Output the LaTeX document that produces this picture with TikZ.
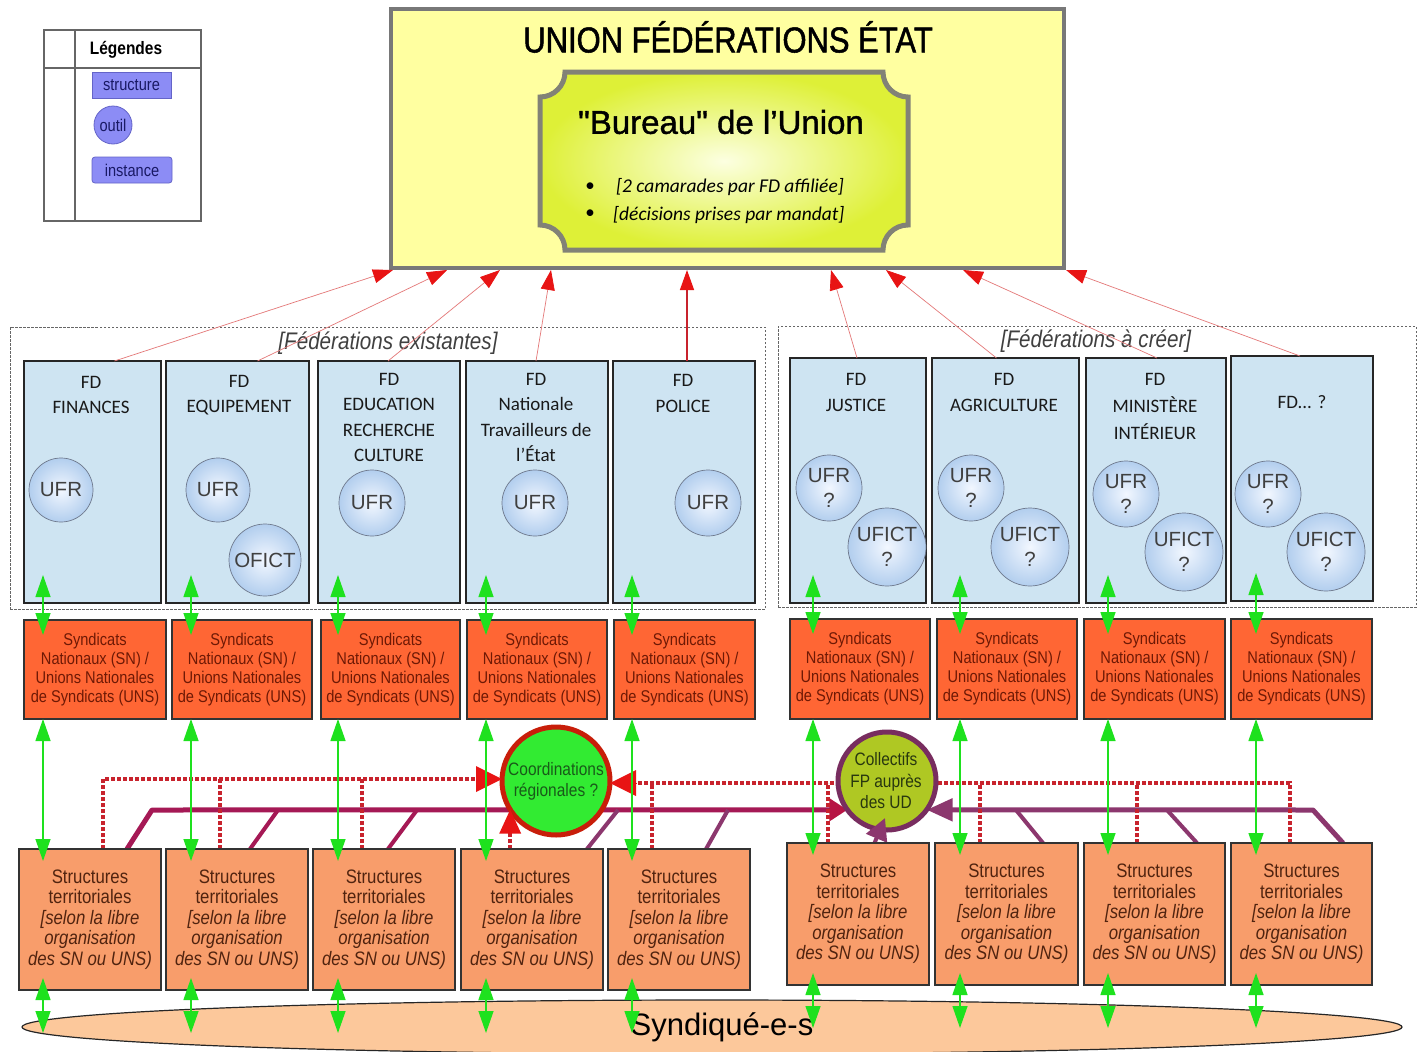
\documentclass[tikz,border=0pt]{standalone}
\usepackage{fontspec}
\usetikzlibrary{arrows.meta,calc,shapes.geometric}
\newfontfamily\ar{Liberation Sans}
\newfontfamily\arb[FakeBold=1.2]{Liberation Sans}
\newfontfamily\nar[FakeStretch=0.86]{Liberation Sans}
\newfontfamily\narb[FakeStretch=0.86,FakeBold=1.4]{Liberation Sans}
\newfontfamily\carl{Carlito}
\definecolor{topyellow}{RGB}{255,255,160}
\definecolor{topgray}{RGB}{120,120,120}
\definecolor{bgray}{RGB}{130,130,118}
\definecolor{bin}{RGB}{252,255,225}
\definecolor{bout}{RGB}{222,240,55}
\definecolor{fdblue}{RGB}{206,228,242}
\definecolor{ufrin}{RGB}{242,247,255}
\definecolor{ufrout}{RGB}{178,206,238}
\definecolor{ufrdraw}{RGB}{110,120,140}
\definecolor{snfill}{RGB}{255,102,52}
\definecolor{sntext}{RGB}{110,25,5}
\definecolor{stfill}{RGB}{248,157,107}
\definecolor{sttext}{RGB}{80,35,15}
\definecolor{ellfill}{RGB}{252,200,155}
\definecolor{ggreen}{RGB}{30,225,30}
\definecolor{rline}{RGB}{228,120,120}
\definecolor{rtip}{RGB}{232,20,20}
\definecolor{dred}{RGB}{200,35,45}
\definecolor{crim}{RGB}{165,25,85}
\definecolor{purp}{RGB}{140,55,110}
\definecolor{coordfill}{RGB}{50,235,50}
\definecolor{coordline}{RGB}{200,30,10}
\definecolor{coordtext}{RGB}{25,90,25}
\definecolor{collfill}{RGB}{175,200,35}
\definecolor{collline}{RGB}{120,45,95}
\definecolor{colltext}{RGB}{40,55,15}
\definecolor{legfill}{RGB}{140,140,245}
\definecolor{legdraw}{RGB}{100,100,200}
\definecolor{legtext}{RGB}{25,25,100}
\newcommand\RB[6]{\node[#6, minimum width={(#4)-(#2)}, minimum height={(#5)-(#3)}] (#1) at ({((#2)+(#4))/2},{((#3)+(#5))/2}) {};}
\newcommand\SNT{Syndicats\\Nationaux (SN) /\\Unions Nationales\\de Syndicats (UNS)}
\newcommand\STT{Structures\\territoriales\\\textit{[selon la libre}\\\textit{organisation}\\\textit{des SN ou UNS)}}
\begin{document}
\begin{tikzpicture}[x=1pt,y=-1pt,
  fdbox/.style={draw=black!85, line width=1.1pt, fill=fdblue, inner sep=0pt, outer sep=0pt},
  snbox/.style={draw=black!80, line width=1.1pt, fill=snfill, inner sep=0pt, outer sep=0pt},
  stbox/.style={draw=black!80, line width=1.1pt, fill=stfill, inner sep=0pt, outer sep=0pt},
  grp/.style={draw=gray!80!black, line width=0.7pt, dash pattern=on 2.5pt off 1.5pt, inner sep=0pt, outer sep=0pt},
  grplab/.style={font=\nar\itshape\fontsize{24}{26}\selectfont, text=black!75, inner sep=0pt},
  fdtxt/.style={font=\carl\fontsize{19}{25.5}\selectfont, align=center, inner sep=0pt, text=black!90},
  uc/.style={circle, draw=ufrdraw, line width=0.7pt, inner color=ufrin, outer color=ufrout, inner sep=0pt, outer sep=0pt, font=\ar\fontsize{20.5}{25}\selectfont, text=black!75, align=center},
  sntxt/.style={font=\nar\fontsize{17}{19}\selectfont, text=sntext, align=center, inner sep=0pt},
  sttxt/.style={font=\nar\fontsize{19.5}{20.5}\selectfont, text=sttext, align=center, inner sep=0pt},
  garrow/.style={draw=ggreen, line width=1.3pt, {Triangle[length=22pt,width=15pt]}-{Triangle[length=22pt,width=15pt]}},
  rthin/.style={draw=rline, line width=0.7pt, -{Triangle[length=20pt,width=14pt,color=rtip]}},
  rdot/.style={draw=dred, line width=4pt, dash pattern=on 4pt off 2pt},
  legbox/.style={draw=legdraw, line width=0.8pt, fill=legfill, text=legtext, font=\nar\fontsize{17}{18}\selectfont, inner sep=0pt},
]
\useasboundingbox[fill=white] (0,0) rectangle (1422,1052);

% ---------- legend ----------
\RB{leg}{44}{30}{201}{221}{draw=gray!80!black, line width=1.1pt, inner sep=0pt}
\draw[gray!80!black, line width=1.1pt] (leg.north west -| 75,0) -- (leg.south west -| 75,0);
\draw[gray!80!black, line width=1.1pt] (leg.west |- 0,68) -- (leg.east |- 0,68);
\node[font=\nar\bfseries\fontsize{18}{19}\selectfont, inner sep=0pt] (legt) at (126,50) {Légendes};
\node[legbox, minimum width=79, minimum height=26] (lstruct) at (131.5,85) {structure};
\node[legbox, circle, minimum size=38] (loutil) at (113,125) {outil};
\node[legbox, rounded corners=3pt, minimum width=80, minimum height=26] (linst) at (132,170) {instance};

% ---------- top box ----------
\node[draw=topgray, line width=4pt, fill=topyellow, inner sep=0pt, outer sep=0pt, minimum width=673, minimum height=259] (top) at (727.5,138.5) {};
\node[font=\narb\fontsize{36}{40}\selectfont, inner sep=0pt] (title) at (728,37) {UNION FÉDÉRATIONS ÉTAT};
\path[draw=bgray, line width=5pt, inner color=bin, outer color=bout]
  (565,72) -- (883,72) .. controls (883,85.8) and (894.2,97) .. (908,97)
  -- (908,225) .. controls (894.2,225) and (883,236.2) .. (883,250)
  -- (565,250) .. controls (565,236.2) and (553.8,225) .. (540,225)
  -- (540,97) .. controls (553.8,97) and (565,85.8) .. (565,72) -- cycle;
\node[font=\arb\fontsize{33}{38}\selectfont, inner sep=0pt] (bureau) at (721,122) {"Bureau" de l’Union};
\node[font=\carl\fontsize{19}{22}\selectfont, inner sep=0pt] (bul1) at (590,187) {•};
\node[font=\carl\fontsize{19}{22}\selectfont, inner sep=0pt] (bul2) at (590,214) {•};
\node[font=\carl\itshape\fontsize{19.5}{22}\selectfont, anchor=west, inner sep=0pt] (b1) at (616,187) {[2 camarades par FD affiliée]};
\node[font=\carl\itshape\fontsize{19.5}{22}\selectfont, anchor=west, inner sep=0pt] (b2) at (613,215) {[décisions prises par mandat]};

% ---------- group frames ----------
\RB{gl}{10}{327}{765}{609}{grp}
\RB{gr}{778}{326}{1416}{607}{grp}
\node[grplab] (gllab) at (388,343) {[Fédérations existantes]};
\node[grplab] (grlab) at (1096,341) {[Fédérations à créer]};

% ---------- FD boxes ----------
\RB{fd1}{24}{361}{161}{603}{fdbox}
\RB{fd2}{166}{361}{309}{603}{fdbox}
\RB{fd3}{318}{361}{460}{603}{fdbox}
\RB{fd4}{466}{361}{608}{603}{fdbox}
\RB{fd5}{613}{361}{755}{603}{fdbox}
\RB{fd6}{790}{358}{926}{603}{fdbox}
\RB{fd7}{932}{358}{1079}{603}{fdbox}
\RB{fd8}{1086}{358}{1226}{603}{fdbox}
\RB{fd9}{1231}{356}{1373}{601}{fdbox}
\node[fdtxt] (fd1t) at (91,395) {FD\\FINANCES};
\node[fdtxt] (fd2t) at (239,395) {FD\\EQUIPEMENT};
\node[fdtxt] (fd3t) at (389,417.5) {FD\\EDUCATION\\RECHERCHE\\CULTURE};
\node[fdtxt] (fd4t) at (536,417.5) {FD\\Nationale\\Travailleurs de\\l’État};
\node[fdtxt] (fd5t) at (683,393.5) {FD\\POLICE};
\node[fdtxt] (fd6t) at (856,392.5) {FD\\JUSTICE};
\node[fdtxt] (fd7t) at (1004,392.5) {FD\\AGRICULTURE};
\node[fdtxt, font=\carl\fontsize{19}{27}\selectfont] (fd8t) at (1155,406) {FD\\MINISTÈRE\\INTÉRIEUR};
\node[fdtxt] (fd9t) at (1302,402) {FD... ?};

\node[uc, minimum size=64] (u1) at (61,490) {UFR};
\node[uc, minimum size=64] (u2) at (218,490) {UFR};
\node[uc, minimum size=72] (o2) at (265,560) {OFICT};
\node[uc, minimum size=66] (u3) at (372,503) {UFR};
\node[uc, minimum size=66] (u4) at (535,503) {UFR};
\node[uc, minimum size=66] (u5) at (708,503) {UFR};
\node[uc, minimum size=66] (u6) at (829,488) {UFR\\?};
\node[uc, minimum size=78] (f6) at (887,547) {UFICT\\?};
\node[uc, minimum size=66] (u7) at (971,488) {UFR\\?};
\node[uc, minimum size=78] (f7) at (1030,547) {UFICT\\?};
\node[uc, minimum size=66] (u8) at (1126,494) {UFR\\?};
\node[uc, minimum size=78] (f8) at (1184,552) {UFICT\\?};
\node[uc, minimum size=66] (u9) at (1268,494) {UFR\\?};
\node[uc, minimum size=78] (f9) at (1326,552) {UFICT\\?};

% ---------- red arrows to the Union ----------
\coordinate (t1) at (393,270);
\coordinate (t2) at (447,270);
\coordinate (t3) at (500,270);
\coordinate (t4) at (551,270);
\coordinate (t5) at (687,270);
\coordinate (t6) at (831,270);
\coordinate (t7) at (886,270);
\coordinate (t8) at (963,270);
\coordinate (t9) at (1066,270);
\draw[rthin] ([xshift=22pt]fd1.north) -- (t1);
\draw[rthin] ([xshift=20pt]fd2.north) -- (t2);
\draw[rthin] ([xshift=-1pt]fd3.north) -- (t3);
\draw[rthin] ([xshift=-1pt]fd4.north) -- (t4);
\draw[rthin, draw=dred, line width=1.4pt] ([xshift=3pt]fd5.north) -- (t5);
\draw[rthin] ([xshift=-1pt]fd6.north) -- (t6);
\draw[rthin] ([xshift=-9pt]fd7.north) -- (t7);
\draw[rthin] ([xshift=1pt]fd8.north) -- (t8);
\draw[rthin] ([xshift=-2pt]fd9.north) -- (t9);

% ---------- syndicats ----------
\RB{sn1}{24}{620}{166}{719}{snbox}
\RB{sn2}{172}{620}{312}{719}{snbox}
\RB{sn3}{321}{620}{460}{719}{snbox}
\RB{sn4}{467}{620}{607}{719}{snbox}
\RB{sn5}{614}{620}{755}{719}{snbox}
\RB{sn6}{790}{619}{930}{719}{snbox}
\RB{sn7}{937}{619}{1077}{719}{snbox}
\RB{sn8}{1084}{619}{1225}{719}{snbox}
\RB{sn9}{1231}{619}{1372}{719}{snbox}
\foreach \i in {1,...,9} {\node[sntxt] (sn\i t) at (sn\i) {\SNT};}

% ---------- coordination lines ----------
\coordinate (dl1) at (103,779);
\coordinate (dl2) at (220,779);
\coordinate (dl3) at (362,779);
\coordinate (dr1) at (652,783);
\coordinate (dr2) at (828,783);
\coordinate (dr3) at (980,783);
\coordinate (dr4) at (1137,783);
\coordinate (dr5) at (1290,783);
\node[circle, minimum size=108, inner sep=0pt, outer sep=0pt] (coord) at (556,781) {};
\node[circle, minimum size=98, inner sep=0pt, outer sep=0pt] (coll) at (887,781) {};

% purple / crimson lines
\draw[crim, line width=5pt, line join=round, -{Triangle[length=18pt,width=22pt,color=crim!80!red]}]
  (127,849) -- (152,810) -- (coll.216.3);
\draw[crim, line width=4pt] (250,849) -- (278,810);
\draw[crim, line width=4pt] (388,849) -- (417,810);
\draw[purp, line width=4pt] (587,849) -- (618,810);
\draw[purp, line width=4pt] (706,849) -- (728,810);
\draw[purp, line width=5pt, line join=round, -{Triangle[length=26pt,width=22pt,color=purp]}]
  (1343,843) -- (1313,810) -- (coll.-36.3);
\draw[purp, line width=4pt] (1043,843) -- (1016,810);
\draw[purp, line width=4pt] (1197,843) -- (1167,810);

% red dotted
\draw[rdot] (dl1 |- 0,849) -- (dl1) -- ([xshift=-24pt]coord.west |- dl1);
\draw[rdot] (dl2 |- 0,849) -- (dl2);
\draw[rdot] (dl3 |- 0,849) -- (dl3);
\draw[rdot] (dr5 |- 0,843) -- (dr5) -- ([xshift=24pt]coord.east |- dr5);
\draw[rdot] (dr1 |- 0,849) -- (dr1);
\draw[rdot] (dr2 |- 0,843) -- (dr2);
\draw[rdot] (dr3 |- 0,843) -- (dr3);
\draw[rdot] (dr4 |- 0,843) -- (dr4);
\draw[rdot] (coord.-148 |- 0,849) -- ([yshift=-20pt]coord.-148);

% circles
\node[circle, draw=coordline, line width=5pt, fill=coordfill, minimum size=108, inner sep=0pt] (coordc) at (coord) {};
\node[font=\nar\fontsize{18}{21}\selectfont, text=coordtext, align=center, inner sep=0pt] (coordt) at (556,781) {Coordinations\\régionales ?};
\node[circle, draw=collline, line width=5pt, fill=collfill, minimum size=98, inner sep=0pt] (collc) at (coll) {};
\node[font=\nar\fontsize{18}{21.5}\selectfont, text=colltext, align=center, inner sep=0pt] (collt) at (886,781) {Collectifs\\FP auprès\\des UD};

% arrow tips into the circles
\draw[rtip, line width=0pt, -{Triangle[length=26pt,width=26pt,color=rtip]}] ([xshift=-25pt]coord.west |- dl1) -- (coord.west |- dl1);
\draw[rtip, line width=0pt, -{Triangle[length=26pt,width=26pt,color=rtip]}] ([xshift=25pt]coord.east |- dr5) -- (coord.east |- dr5);
\draw[rtip, line width=0pt, -{Triangle[length=24pt,width=22pt,color=rtip]}] ([yshift=-24pt]coord.-148) -- (coord.-148);
\draw[purp, line width=4pt, -{Triangle[length=22pt,width=22pt,color=purp]}] (872,849) -- (885,818);

% ---------- structures ----------
\RB{st1}{19}{849}{161}{990}{stbox}
\RB{st2}{166}{849}{308}{990}{stbox}
\RB{st3}{313}{849}{455}{990}{stbox}
\RB{st4}{461}{849}{603}{990}{stbox}
\RB{st5}{608}{849}{750}{990}{stbox}
\RB{st6}{787}{843}{929}{985}{stbox}
\RB{st7}{935}{843}{1078}{985}{stbox}
\RB{st8}{1084}{843}{1225}{985}{stbox}
\RB{st9}{1231}{843}{1372}{985}{stbox}
\foreach \i in {1,...,9} {\node[sttxt] (st\i t) at (st\i) {\STT};}

% ---------- syndiqué-e-s ----------
\node[ellipse, draw=black!85, line width=1.2pt, fill=ellfill, minimum width=1380, minimum height=54, inner sep=0pt] (syn) at (712,1027) {};
\node[font=\ar\fontsize{31}{34}\selectfont, inner sep=0pt] (synt) at (722,1027) {Syndiqué-e-s};

% ---------- green arrows ----------
\coordinate (g1) at (43,0);
\coordinate (g2) at (191,0);
\coordinate (g3) at (338,0);
\coordinate (g4) at (486,0);
\coordinate (g5) at (632,0);
\coordinate (g6) at (813,0);
\coordinate (g7) at (960,0);
\coordinate (g8) at (1108,0);
\coordinate (g9) at (1256,0);
\foreach \i in {1,...,9} {
  \draw[garrow] ([yshift=28pt]fd\i.south -| g\i) -- ([yshift=-15pt]sn\i.north -| g\i);
  \draw[garrow] (sn\i.south -| g\i) -- ([yshift=-12pt]st\i.north -| g\i);
  \draw[garrow] ([yshift=12pt]st\i.south -| g\i) -- ([yshift=-43pt]st\i.south -| g\i);
}
\end{tikzpicture}
\end{document}
